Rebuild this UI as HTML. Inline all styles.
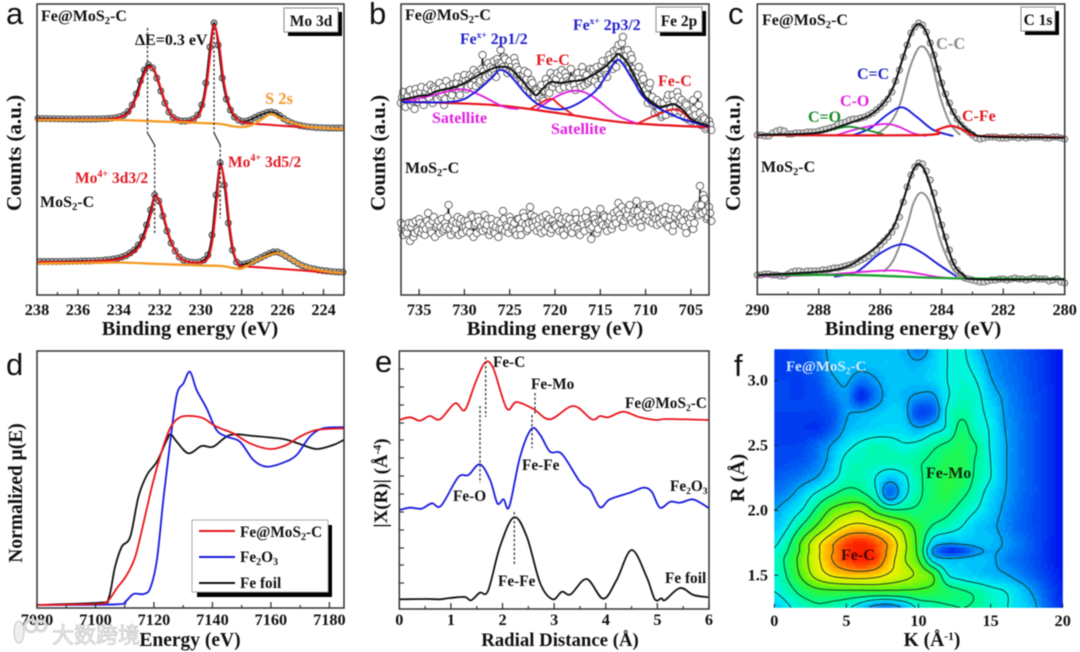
<!DOCTYPE html>
<html lang="en">
<head>
<meta charset="utf-8">
<title>Fe@MoS2-C spectroscopy figure</title>
<style>
html,body{margin:0;padding:0;background:#fff;width:1080px;height:652px;overflow:hidden}
#figure{display:block;filter:blur(0.65px)}
text{font-family:"Liberation Serif","Noto Sans CJK SC",serif;font-weight:bold;fill:#111}
.letter{font-family:"Liberation Sans",sans-serif;font-weight:normal;font-size:31px;fill:#111}
.tick{font-size:16.3px;text-anchor:middle}
.axis{font-size:20.5px;text-anchor:middle}
.lab{font-size:16px}
.frame{fill:none;stroke:#333;stroke-width:1.5}
</style>
</head>
<body>
<svg id="figure" xmlns="http://www.w3.org/2000/svg" width="1080" height="652" viewBox="0 0 1080 652">
<rect x="0" y="0" width="1080" height="652" fill="#fff"/>
<g id="layer-a"></g>
<g id="layer-b"></g>
<g id="layer-c"></g>
<g id="layer-d"></g>
<g id="layer-e"></g>
<g id="layer-f"></g>

<!-- panel a -->
<rect class="frame" x="37" y="4" width="307" height="291"/>
<text class="letter" x="6" y="24">a</text>
<text class="lab" x="41" y="21">Fe@MoS<tspan dy="3" font-size="10.5">2</tspan><tspan dy="-3">-C</tspan></text>
<text class="lab" x="40" y="207">MoS<tspan dy="3" font-size="10.5">2</tspan><tspan dy="-3">-C</tspan></text>
<text x="135" y="45" font-size="16">ΔE=0.3 eV</text>
<text x="228" y="167" font-size="15.5" style="fill:#e01c24">Mo<tspan dy="-6" font-size="10">4+</tspan><tspan dy="6"> 3d5/2</tspan></text>
<text x="75" y="183" font-size="15.5" style="fill:#e01c24">Mo<tspan dy="-6" font-size="10">4+</tspan><tspan dy="6"> 3d3/2</tspan></text>
<text x="265" y="104" font-size="16.5" style="fill:#f39a2c">S 2s</text>
<rect x="288" y="12" width="54" height="24" fill="#000"/>
<rect x="284" y="8" width="54" height="24" fill="#fff" stroke="#888"/>
<text x="311" y="26" font-size="15.5" text-anchor="middle">Mo 3d</text>
<text class="axis" x="190" y="335">Binding energy (eV)</text>
<text class="axis" style="font-size:21px" transform="translate(21,153) rotate(-90)">Counts (a.u.)</text>

<!-- panel b -->
<rect class="frame" x="401" y="4" width="308" height="291"/>
<text class="letter" x="369" y="24">b</text>
<text class="lab" x="405" y="20">Fe@MoS<tspan dy="3" font-size="10.5">2</tspan><tspan dy="-3">-C</tspan></text>
<text class="lab" x="405" y="173">MoS<tspan dy="3" font-size="10.5">2</tspan><tspan dy="-3">-C</tspan></text>
<text x="460" y="44" font-size="15.8" style="fill:#2222cc">Fe<tspan dy="-6" font-size="9.5">x+</tspan><tspan dy="6"> 2p1/2</tspan></text>
<text x="573" y="30" font-size="15.8" style="fill:#2222cc">Fe<tspan dy="-6" font-size="9.5">x+</tspan><tspan dy="6"> 2p3/2</tspan></text>
<text x="536" y="65" font-size="16" style="fill:#e01c24">Fe-C</text>
<text x="658" y="86" font-size="16" style="fill:#e01c24">Fe-C</text>
<text x="432" y="123" font-size="16" style="fill:#e020e0">Satellite</text>
<text x="551" y="134" font-size="16" style="fill:#e020e0">Satellite</text>
<rect x="660" y="11" width="46" height="25" fill="#000"/>
<rect x="656" y="7" width="46" height="25" fill="#fff" stroke="#888"/>
<text x="679" y="26" font-size="15.5" text-anchor="middle">Fe 2p</text>
<text class="axis" x="555" y="335">Binding energy (eV)</text>
<text class="axis" style="font-size:21px" transform="translate(385,153) rotate(-90)">Counts (a.u.)</text>

<!-- panel c -->
<rect class="frame" x="757.3" y="4" width="307.4" height="290.5"/>
<text class="letter" x="728" y="24">c</text>
<text class="lab" x="762" y="25">Fe@MoS<tspan dy="3" font-size="10.5">2</tspan><tspan dy="-3">-C</tspan></text>
<text class="lab" x="761" y="172">MoS<tspan dy="3" font-size="10.5">2</tspan><tspan dy="-3">-C</tspan></text>
<text x="936" y="49" font-size="16.5" style="fill:#8a8a8a">C-C</text>
<text x="857" y="79" font-size="16" style="fill:#2222cc">C=C</text>
<text x="840" y="106" font-size="16" style="fill:#e020e0">C-O</text>
<text x="808" y="122" font-size="16" style="fill:#1a8a2a">C=O</text>
<text x="962" y="121" font-size="16" style="fill:#e01c24">C-Fe</text>
<rect x="1025" y="11" width="34" height="24" fill="#000"/>
<rect x="1021" y="7" width="34" height="24" fill="#fff" stroke="#888"/>
<text x="1038" y="25" font-size="15.5" text-anchor="middle">C 1s</text>
<text class="axis" x="913" y="335">Binding energy (eV)</text>
<text class="axis" style="font-size:21px" transform="translate(740,153) rotate(-90)">Counts (a.u.)</text>

<!-- panel d -->
<rect class="frame" x="37" y="351" width="307" height="257"/>
<text class="letter" x="6" y="375">d</text>
<text class="axis" x="190" y="646" style="font-size:19.5px">Energy (eV)</text>
<text class="axis" style="font-size:19.5px" transform="translate(22,493) rotate(-90)">Normalized μ(E)</text>
<rect x="197" y="525" width="135" height="72" fill="#000"/>
<rect x="192" y="520" width="136" height="72" fill="#fff" stroke="#aaa"/>
<line x1="199" y1="531" x2="235" y2="531" stroke="#e8141c" stroke-width="2"/>
<line x1="199" y1="557" x2="235" y2="557" stroke="#1a1ae0" stroke-width="2"/>
<line x1="199" y1="583" x2="235" y2="583" stroke="#111" stroke-width="2"/>
<text x="240" y="537" font-size="15.3">Fe@MoS<tspan dy="3" font-size="10">2</tspan><tspan dy="-3">-C</tspan></text>
<text x="240" y="562" font-size="15.3">Fe<tspan dy="3" font-size="10">2</tspan><tspan dy="-3">O</tspan><tspan dy="3" font-size="10">3</tspan></text>
<text x="240" y="588" font-size="15.3">Fe foil</text>

<!-- panel e -->
<rect class="frame" x="399.3" y="351" width="309.7" height="258"/>
<text class="letter" x="375" y="372">e</text>
<text x="493" y="367" font-size="15.3">Fe-C</text>
<text x="531" y="389" font-size="15.3">Fe-Mo</text>
<text x="625" y="408" font-size="15.3">Fe@MoS<tspan dy="3" font-size="9.5">2</tspan><tspan dy="-3">-C</tspan></text>
<text x="522" y="470" font-size="15.3">Fe-Fe</text>
<text x="453" y="501" font-size="15.3">Fe-O</text>
<text x="670" y="491" font-size="15.3">Fe<tspan dy="3" font-size="9.5">2</tspan><tspan dy="-3">O</tspan><tspan dy="3" font-size="9.5">3</tspan></text>
<text x="498" y="586" font-size="15.3">Fe-Fe</text>
<text x="665" y="583" font-size="15.3">Fe foil</text>
<text class="axis" x="560" y="646" style="font-size:18.8px">Radial Distance (Å)</text>
<text class="axis" style="font-size:19px" transform="translate(387,483) rotate(-90)">|X(R)| (Å<tspan dy="-6" font-size="11.5">-4</tspan><tspan dy="6">)</tspan></text>

<!-- panel f labels -->
<text class="letter" x="734" y="376">f</text>
<text x="786" y="371" font-size="15" style="fill:#d4e6ff">Fe@MoS<tspan dy="3" font-size="9.5">2</tspan><tspan dy="-3">-C</tspan></text>
<text x="926" y="478" font-size="16" style="fill:#0a2a10">Fe-Mo</text>
<text x="841" y="560" font-size="16" style="fill:#4a0808">Fe-C</text>
<text class="axis" x="932" y="646" style="font-size:19.5px">K (Å<tspan dy="-6" font-size="11.5">-1</tspan><tspan dy="6">)</tspan></text>
<text class="axis" transform="translate(744,478) rotate(-90)">R (Å)</text>

<!-- watermark -->
<g>
<ellipse cx="19" cy="632" rx="5" ry="11" fill="#eee" stroke="#c4c4c4"/>
<circle cx="31" cy="626" r="6" fill="none" stroke="#d8d8d8" stroke-width="3"/>
<circle cx="41" cy="626" r="5" fill="none" stroke="#d8d8d8" stroke-width="3"/>
<text x="52" y="643" font-size="22" style="font-family:'Noto Sans CJK SC',sans-serif;fill:#eeeeee;stroke:#bdbdbd;stroke-width:.6;font-weight:normal">大数跨境</text>
</g>
</svg>

<script>
/* ---------- panel a data ---------- */
const aTopStart = 238.15;
const aBottomStart = 238.05;
const aStep = 0.2;
const aTopCounts = [176.5,176.5,176.4,176.4,176.3,176.3,176.2,176.2,176.1,176.1,176.1,176,176,176,176,176,
176.2,176.3,176.5,176.8,177.3,178.3,180,183.5,190,201,214,225,230,227,217,204,192,183,177.5,175,174,174,174.5,176,180,190,212,248,272,250,217,196,185,178,175,173.5,174,175.5,177.5,179.5,181,182.5,183,182,179.5,176.5,174,172,170.5,169.5,168.8,168.2,167.8,167.5,167.3,167.2,167,167,167,167];
const aBottomCounts = [33.5,33.5,33.5,33.5,33.5,33.5,33.6,33.6,33.7,33.8,33.8,33.9,34,34,34.2,34.4,
34.6,35,35.4,36,36.8,38,39.5,42,45,50,58,70,85,100,94,79,64,52,44,38,35,33.5,32.8,32.5,33,35,40,60,100,132,110,72,45,33,30.5,31,32,33.5,35.5,37.5,39.5,41.5,43,43,41.5,39,36.5,34,31.5,29.5,28,26.8,26,25,24.5,24,23.6,23.2,23,22.8];
const aRedTopE = [238.1,236,234.5,233.9,233.5,233.1,232.9,232.7,232.55,232.3,232.1,231.9,231.7,231.5,231.3,231,230.5,230.1,229.9,229.7,229.5,229.35,229.1,228.9,228.7,228.5,228.3,228,227.5,226.5,225.5,224,223];
const aRedTopV = [175.5,175.5,176,178,183,200,213,224,228,226,216,203,191,182,177,174,174,180,190,212,248,270,250,217,196,185,178,173,171.5,170,168.5,167,166];
const aRedBottomE = [238,236,234.6,234,233.6,233.2,233,232.8,232.6,232.4,232.25,232,231.8,231.6,231.4,231.2,231,230.6,230,229.8,229.6,229.4,229.2,229.05,228.8,228.6,228.4,228.2,228,227,226,225,224,223];
const aRedBottomV = [33,33,34.5,36,39,44,49,57,69,84,99,93,78,63,51,43,37,33,32.5,34,39,59,99,130,109,71,44,32,29,27.5,26,24.5,23,22];
const aOrangeTopE = [238.1,236,234,232,230,229,228.5,228,227.5,227,226.55,226,225,224,223];
const aOrangeTopV = [175,175,175,173.5,172,171,169,168,170,176,181,176,169,167,166];
const aOrangeBottomE = [238,236,234,232,230,229,228.4,228,227.5,227,226.3,225.8,225,224,223];
const aOrangeBottomV = [31.5,32,32.5,31,29.5,29,27,26.5,32,37,42,38.5,29,24,22];
const aPeakShiftE = [[232.6,232.25],[229.35,229.05]];
const aMajorTicks = [238,236,234,232,230,228,226,224];
const aMinorTicks = [237,235,233,231,229,227,225,223];

/* ---------- panel b data ---------- */
const bStart = 737;
const bStep = 0.25;
const bTopCounts = [192,203,188,199,205,194,186,201,196,208,190,203,199,210,192,206,196,212,201,190,214,203,197,211,206,218,200,213,220,206,216,210,225,209,219,214,240,216,228,220,222,234,218,232,245,228,236,222,234,222,237,228,225,215,221,210,222,203,212,198,205,198,210,194,216,204,222,208,212,222,206,225,208,218,212,226,216,205,222,212,228,210,220,214,216,226,220,210,222,234,226,218,240,230,244,228,250,238,258,244,245,228,236,222,218,228,208,216,205,192,212,198,182,195,186,178,192,180,200,186,200,184,203,190,195,178,190,184,174,195,180,200,182,172,176,168,174,165];
const bTopCountsExtra = [198,192,196,204,190,200,206,193,203,194,200,207,197,204,208,200,205,199,208,196,204,209,200,206,212,204,209,216,214,208,220,218,216,222,212,226,224,218,232,228,226,220,236,230,232,238,226,230,228,224,232,220,219,212,224,216,208,215,202,206,202,208,196,204,211,202,214,218,216,210,220,214,222,214,208,216,210,220,216,208,222,218,212,226,224,214,228,222,230,224,220,236,236,226,238,246,242,252,236,240,232,240,226,218,224,212,220,204,200,208,194,190,190,184,192,180,186,196,190,182,194,188,198,184,186,192,176,182,178,186,172,190,170,178,166,172,170];
const bBottomCounts = [72,60,64,68,54,72,62,66,76,62,70,66,82,64,74,58,70,62,76,66,68,90,60,74,66,78,72,62,74,64,70,80,58,72,78,66,64,80,70,60,76,64,68,58,72,84,64,68,78,66,72,60,76,60,82,70,66,88,72,78,64,76,62,72,80,68,62,74,70,84,64,76,60,78,70,66,72,82,66,60,76,64,84,70,56,80,72,66,86,70,78,64,74,66,82,72,92,76,68,84,80,90,72,84,94,78,68,88,76,84,90,72,82,70,76,86,74,88,68,80,64,78,86,72,70,82,62,76,78,66,84,90,109,82,96,76,88,74];
const bBottomCountsExtra = [66,70,62,72,68,58,74,64,72,66,60,74,70,62,78,68,74,68,64,72,78,66,70,64,72,60,76,68,68,74,62,78,70,62,74,68,72,66,76,64,70,62,74,66,66,76,70,62,74,68,64,76,66,72,78,64,72,80,68,74,70,66,78,64,72,76,66,70,68,78,72,64,74,66,76,62,68,76,62,72,70,78,72,66,68,76,62,74,74,80,68,72,78,70,76,84,80,88,74,78,86,76,82,74,84,72,80,90,80,74,88,78,76,84,72,80,82,70,76,86,70,82,74,78,74,68,80,72,82,72,88,80,90,100,84,78,82];
const bFitE = [737,736,735,734,733,732,731,730,729,728,727,726.4,725.5,725,724,723.5,722.2,721.5,720.5,719.5,718,717,715.8,714.5,713.5,713,712,711.4,710.5,709.9,708.4,707,706,704.8,703];
const bFitV = [195,197,199,200,204,206,208,212,217,222,226,228,228,227,218,213,200,205,213,212,214,215,220,228,237,241,232,222,206,197,188,191,186,175,169];
const bBlueE = [736.9,731.2,729,727,726.1,725,723.1,721.3,718.7,715.8,714.2,713,711.4,709.9,706.6,703];
const bBlueV = [193,193.3,201.7,217,225,220,200,188.3,186.7,201.7,221,235,215,195,178.3,168.3];
const bBaseE = [736.9,726.8,719.5,712.1,703];
const bBaseV = [193.3,190,181.7,172.3,167.7];
const bSat1E = [736.9,734.2,730.5,728.3,725.7,724];
const bSat1V = [193.3,198.3,205.7,200,188.3,186];
const bSat2E = [722,719.5,717.6,715.8,713.2,711];
const bSat2V = [186,200,204.3,198.3,180,171.7];
const bFeC1E = [722.8,720.6,719.5,718];
const bFeC1V = [185.7,196,190,180];
const bFeC2E = [711,706.9,704.7,703];
const bFeC2V = [171,185.7,173.3,168.3];
const bMajorTicks = [735,730,725,720,715,710,705];

/* ---------- panel c data ---------- */
const cStart = 290;
const cStep = 0.125;
const cTopCounts = [160,160,159,159,162,164,165,164,161,161,162,162,162,163,163,163,164,165,166,167,168,171,172,173,175,176,176,177,178,180,182,185,188,192,196,203,214,225,238,250,262,268,272,270,263,252,240,226,212,201,192,183,176,170,166,163,160,157,156,157,158,158,158,157,157,157,158,158,157,158,157,158,158,158,158,157,157,158,158,157,156];
const cBottomCounts = [20,20,21,21,20,20,19,19,21,23,24,24,23,24,24,24,24,25,25,26,27,27,28,29,30,31,33,35,37,39,42,45,50,54,58,63,69,78,93,108,120,128,132,131,124,115,102,85,70,58,45,33,25,20,17,16,15,14,13,13,14,15,15,16,16,15,16,17,16,16,15,16,17,16,16,16,14,15,16,13,12];
const cTopFitE = [289.96,288.17,287.5,286.87,286.33,285.9,285.57,285.25,284.97,284.76,284.54,284.27,283.94,283.62,283.29,282.97,282.53,280];
const cTopFitV = [160,161.7,166.7,173.3,180,191.7,208.3,238.3,263.3,271,265,241.7,205,181.7,168.3,161.7,158.3,157.3];
const cTopGrayE = [286.11,285.68,285.35,285.03,284.7,284.38,284.05,283.73,283.4];
const cTopGrayV = [161,171.7,191.7,228,248.3,238,198,171.7,160];
const cTopBlueE = [286.87,286.33,285.79,285.3,284.81,284.27,283.62];
const cTopBlueV = [160,166.7,180,187.7,178,165,159];
const cTopMagentaE = [287.41,286.65,285.9,285.46,284.92,284.49];
const cTopMagentaV = [160,166.7,171,169,161.7,159];
const cTopGreenE = [288.39,287.63,287.03,286.44,285.9];
const cTopGreenV = [160,165,168.3,165,160.7];
const cTopRedE = [290,284.6,284.16,283.67,283.18,282.75,280];
const cTopRedV = [160,160,165,169,163.3,159,157.7];
const cBottomFitE = [289.96,287.96,287.09,286.55,286,285.57,285.25,284.97,284.76,284.54,284.27,283.94,283.62,283.29,282.86,280];
const cBottomFitV = [20,23.3,28.3,38.3,51.7,68.3,95,121.7,131,123.3,98.3,61.7,31.7,20,15.7,15.7];
const cBottomGrayE = [285.9,285.57,285.14,284.92,284.67,284.38,284.05,283.62,283.29];
const cBottomGrayV = [23.3,35,68.3,91.7,102.3,91.7,55,25,18.3];
const cBottomBlueE = [287.5,286.76,286,285.3,284.7,284.16,283.51];
const cBottomBlueV = [18.3,23.3,41.7,50.7,43.3,31.7,18.3];
const cBottomMagentaE = [289.96,287.96,286,285.14,284.05,282.97];
const cBottomMagentaV = [19,20,24.3,23.3,17.7,15.7];
const cBottomGreenE = [289.96,286.87,285.79,283.62,280];
const cBottomGreenV = [20,20,19,16.7,16];
const cMajorTicks = [290,288,286,284,282,280];
const cMinorTicks = [289,287,285,283,281];

/* ---------- panel d data ---------- */
const dRedE = [7080,7099.4,7103.9,7107.3,7110.7,7113.6,7116.4,7119.3,7122.1,7125.5,7128.9,7132.9,7136.9,7141.4,7147.1,7152.8,7159.6,7165.3,7169.9,7175.6,7184.9];
const dRedV = [3,4,6.3,19.7,33,51.3,84.7,121.3,151.3,179.7,190.7,192,189.7,181.3,174.7,164.7,159,163,171.3,178,179.7];
const dBlueE = [7080,7107.3,7110.2,7113,7116.4,7118.7,7121,7123.2,7125.5,7127.8,7130.1,7132.3,7134.6,7138,7141.4,7144.9,7149.4,7154,7158.5,7164.2,7168.8,7173.3,7177.9,7184.9];
const dBlueV = [3,3.7,6.3,14,14,19.7,48,108,164.7,213,224.7,236.3,218,199.7,178,171.3,166.3,148,141.3,145.3,153,171.3,179.7,180.7];
const dBlackE = [7080,7101.6,7104.5,7106.7,7109,7111.9,7114.7,7117.6,7121,7124.4,7125.7,7127.8,7131.8,7136.3,7140.3,7146,7154,7164.2,7169.9,7175.6,7181.3,7184.9];
const dBlackV = [3,5.3,9.7,41.3,61.3,71.3,111.3,133,146.3,168,173.7,166.3,154.7,162,161.3,173,172,169,164,159,163,168];
const dMajorTicks = [7080,7100,7120,7140,7160,7180];
const dMinorTicks = [7090,7110,7130,7150,7170];

/* ---------- panel e data ---------- */
const eRedR = [0,0.21,0.4,0.59,0.79,1.08,1.27,1.47,1.66,1.82,2.08,2.27,2.6,2.92,3.37,3.73,3.89,4.05,4.34,4.66,4.99,5.18,6];
const eRedV = [189,191.7,188.3,193,189.7,205.7,199,225.7,246.3,240.7,200.7,207,200,189.7,203,189.7,193,191.7,197.3,191.7,189,190,189];
const eBlueR = [0,0.21,0.43,0.63,0.81,1.14,1.34,1.56,1.76,1.9,2.02,2.13,2.34,2.56,2.73,2.92,3.15,3.5,3.7,3.89,4.08,4.47,4.73,4.89,5.05,5.25,5.44,5.67,5.83,6];
const eBlueV = [99,101.3,100.3,105.7,103.3,131.7,134,144.7,129,105.7,109.7,102.3,152.3,180,174,157.3,155,127.3,119,101.7,109.7,116.3,121.3,117.3,101.3,107.3,106.3,109.7,106.3,100.7];
const eBlackR = [0,0.53,0.79,0.98,1.27,1.39,1.56,1.72,1.95,2.22,2.47,2.73,2.97,3.15,3.32,3.63,3.95,4.21,4.5,4.79,4.95,5.08,5.15,5.44,5.7,6];
const eBlackV = [9.7,10,9.7,11,12,8.7,16.3,18.3,62.3,91.7,72.3,25.7,9.7,17.3,14.7,30,10.3,29,59,32.3,9.7,10.7,9,21,14,11.7];
const eMajorTicks = [0,1,2,3,4,5,6];
const eMinorTicks = [0.5,1.5,2.5,3.5,4.5,5.5];
const eYTicks = [240,222,204,186,169,151,133,115,97,79,61,44,26];

/* ---------- panel f data ---------- */
const fKValues = [0,1,2,3,4,5,6,7,8,9,10,11,12,13,14,15,16,17,18,19,20];
const fRValues = [3.25,3.125,3,2.875,2.75,2.625,2.5,2.375,2.25,2.125,2,1.875,1.75,1.6875,1.625,1.5,1.375,1.25];
const fIntensity = [
[11,11,12,20,29,30,30,30,30,28,20,30,38,40,29,22,19,15,11,7,3],
[11,11,12,18,28,30,29,30,31,29,28,32,38,40,34,24,20,16,12,8,3],
[11,11,11,14,24,27,20,25,30,30,30,32,38,41,38,27,21,17,12,8,3],
[11,11,11,12,19,24,7,20,30,28,24,24,37,42,41,31,24,18,13,9,3],
[11,11,11,11,14,25,27,30,32,30,12,16,40,46,41,35,25,19,14,9,3],
[11,10,9,9,16,28,31,33,34,33,28,34,40,51,42,37,26,20,14,9,3],
[11,11,12,18,27,35,40,43,42,39,41,46,50,53,48,37,27,20,14,9,3],
[12,13,15,21,30,41,43,44,43,44,47,50,54,54,47,38,27,20,14,9,3],
[15,18,22,27,35,43,44,38,30,36,46,52,55,54,46,38,27,20,14,9,3],
[20,24,32,40,47,52,50,41,18,35,46,52,55,50,43,33,26,19,14,9,3],
[26,32,39,51,62,67,69,58,50,49,50,52,50,44,38,31,24,18,13,9,3],
[30,38,50,62,73,81,83,80,73,66,56,47,43,38,31,28,23,17,13,9,3],
[36,46,63,77,88,97,100,96,87,72,57,34,28,29,30,30,25,20,14,8,3],
[39,49,64,78,89,98,102,98,87,72,57,25,9,12,23,27,24,19,14,8,3],
[42,52,66,78,90,98,102,98,85,71,60,34,28,29,30,28,22,18,13,8,3],
[40,50,63,74,81,84,85,83,78,73,68,60,39,34,31,29,27,22,16,10,4],
[38,44,52,57,58,58,58,58,58,58,58,56,52,49,46,41,38,32,24,14,6],
[30,37,42,46,44,40,32,22,20,28,40,44,47,48,47,42,39,33,28,16,7]
];
const fContourLevels = [26,38,48,60,70,80,90];
const fKTicks = [0,5,10,15,20];
const fRTicks = [1.5,2,2.5,3];

/* ---------- helpers ---------- */
const NS = 'http://www.w3.org/2000/svg';
function scale(d0, d1, p0, p1) { return v => p0 + (v - d0) / (d1 - d0) * (p1 - p0); }
function smoothPath(pts) {
  let d = 'M' + pts[0][0].toFixed(2) + ' ' + pts[0][1].toFixed(2);
  for (let i = 0; i < pts.length - 1; i++) {
    const p0 = pts[Math.max(i - 1, 0)], p1 = pts[i], p2 = pts[i + 1], p3 = pts[Math.min(i + 2, pts.length - 1)];
    const c1x = p1[0] + (p2[0] - p0[0]) / 6, c1y = p1[1] + (p2[1] - p0[1]) / 6;
    const c2x = p2[0] - (p3[0] - p1[0]) / 6, c2y = p2[1] - (p3[1] - p1[1]) / 6;
    d += 'C' + c1x.toFixed(2) + ' ' + c1y.toFixed(2) + ' ' + c2x.toFixed(2) + ' ' + c2y.toFixed(2) + ' ' + p2[0].toFixed(2) + ' ' + p2[1].toFixed(2);
  }
  return d;
}
function drawCurve(layer, name, xs, vs, xAxis, yAxis, color, width, smooth) {
  const pts = xs.map((x, i) => [xAxis(x), yAxis(vs[i])]);
  const el = document.createElementNS(NS, 'path');
  el.setAttribute('d', smooth === false ? 'M' + pts.map(p => p[0].toFixed(2) + ' ' + p[1].toFixed(2)).join('L') : smoothPath(pts));
  el.setAttribute('fill', 'none');
  el.setAttribute('stroke', color);
  el.setAttribute('stroke-width', width);
  el.setAttribute('stroke-linejoin', 'round');
  
  
  layer.appendChild(el);
}
function drawMarkers(layer, name, xs, vs, xAxis, yAxis, r, fill, stroke, sw) {
  const g = document.createElementNS(NS, 'g');
  
  
  xs.forEach((x, i) => {
    const c = document.createElementNS(NS, 'circle');
    c.setAttribute('cx', xAxis(x).toFixed(2));
    c.setAttribute('cy', yAxis(vs[i]).toFixed(2));
    c.setAttribute('r', r);
    c.setAttribute('fill', fill);
    c.setAttribute('stroke', stroke);
    c.setAttribute('stroke-width', sw);
    
    
    g.appendChild(c);
  });
  layer.appendChild(g);
}
function drawSeg(layer, name, x1, y1, x2, y2, color, width, dash) {
  const el = document.createElementNS(NS, 'line');
  el.setAttribute('x1', x1);
  el.setAttribute('y1', y1);
  el.setAttribute('x2', x2);
  el.setAttribute('y2', y2);
  el.setAttribute('stroke', color);
  el.setAttribute('stroke-width', width);
  if (dash) el.setAttribute('stroke-dasharray', dash);
  
  
  layer.appendChild(el);
}
function drawLabel(layer, name, x, y, str, anchor) {
  const t = document.createElementNS(NS, 'text');
  t.setAttribute('class', 'tick');
  t.setAttribute('x', x);
  t.setAttribute('y', y);
  t.setAttribute('style', 'text-anchor:' + anchor);
  t.textContent = str;
  
  
  layer.appendChild(t);
}
function xTicks(layer, axis, bottom, labelY, majors, minors, fmt) {
  majors.forEach(v => {
    drawSeg(layer, 'x-major-tick', axis(v), bottom, axis(v), bottom - 6, '#333', 1.3);
    drawLabel(layer, 'x-tick-label', axis(v), labelY, fmt ? fmt(v) : String(v), 'middle');
  });
  minors.forEach(v => drawSeg(layer, 'x-minor-tick', axis(v), bottom, axis(v), bottom - 3, '#333', 1.2));
}
function range(start, step, n) { const a = []; for (let i = 0; i < n; i++) a.push(start - i * step); return a; }
function interleave(a, b) { const o = []; a.forEach((v, i) => { o.push(v); if (i < b.length) o.push(b[i]); }); return o; }

/* ---------- panel a ---------- */
(function () {
  const L = document.getElementById('layer-a');
  const x = scale(238, 223, 37, 344), y = scale(0, 291, 295, 4);
  const eTop = range(aTopStart, aStep, aTopCounts.length).filter(e => e <= 238);
  const vTop = aTopCounts.slice(aTopCounts.length - eTop.length);
  const eBot = range(aBottomStart, aStep, aBottomCounts.length).filter(e => e <= 238);
  const vBot = aBottomCounts.slice(aBottomCounts.length - eBot.length);
  drawMarkers(L, 'a-top-markers', eTop, vTop, x, y, 3, '#b8b8b8', '#444', 0.9);
  drawMarkers(L, 'a-bottom-markers', eBot, vBot, x, y, 3, '#b8b8b8', '#444', 0.9);
  drawCurve(L, 'a-top-fit', eTop, vTop, x, y, '#111', 1.6);
  drawCurve(L, 'a-bottom-fit', eBot, vBot, x, y, '#111', 1.6);
  drawCurve(L, 'a-top-mo3d', aRedTopE, aRedTopV, x, y, '#e8141c', 2.1);
  drawCurve(L, 'a-bottom-mo3d', aRedBottomE, aRedBottomV, x, y, '#e8141c', 2.1);
  drawCurve(L, 'a-top-s2s', aOrangeTopE, aOrangeTopV, x, y, '#f59a23', 2.3);
  drawCurve(L, 'a-bottom-s2s', aOrangeBottomE, aOrangeBottomV, x, y, '#f59a23', 2.3);
  aPeakShiftE.forEach(pair => {
    drawSeg(L, 'a-shift-guide-upper', x(pair[0]), 28, x(pair[0]), 133, '#222', 1.2, '2.5 2');
    drawSeg(L, 'a-shift-guide-kink', x(pair[0]), 133, x(pair[1]), 145, '#222', 1.2);
    drawSeg(L, 'a-shift-guide-lower', x(pair[1]), 145, x(pair[1]), pair[0] > 231 ? 235 : 218, '#222', 1.2, '2.5 2');
  });
  xTicks(L, x, 295, 315, aMajorTicks, aMinorTicks);
})();

/* ---------- panel b ---------- */
(function () {
  const L = document.getElementById('layer-b');
  const x = scale(737, 703, 401, 709), y = scale(0, 291, 295, 4);
  const eA = range(bStart, bStep, bTopCounts.length);
  const eB = range(bStart - bStep / 2, bStep, bTopCountsExtra.length);
  const eAll = interleave(eA, eB);
  const vTop = interleave(bTopCounts, bTopCountsExtra);
  const vBot = interleave(bBottomCounts, bBottomCountsExtra);
  drawCurve(L, 'b-top-trace', eAll, vTop, x, y, '#111', 1.1, false);
  drawCurve(L, 'b-bottom-trace', eAll, vBot, x, y, '#111', 1.1, false);
  drawMarkers(L, 'b-top-markers', eAll, vTop, x, y, 3.7, '#fff', '#555', 0.9);
  drawMarkers(L, 'b-bottom-markers', eAll, vBot, x, y, 3.7, '#fff', '#555', 0.9);
  drawCurve(L, 'b-base', bBaseE, bBaseV, x, y, '#e8141c', 2.2);
  drawCurve(L, 'b-satellite-1', bSat1E, bSat1V, x, y, '#e020e0', 1.8);
  drawCurve(L, 'b-satellite-2', bSat2E, bSat2V, x, y, '#e020e0', 1.8);
  drawCurve(L, 'b-fe-c-1', bFeC1E, bFeC1V, x, y, '#e8141c', 1.8);
  drawCurve(L, 'b-fe-c-2', bFeC2E, bFeC2V, x, y, '#e8141c', 1.8);
  drawCurve(L, 'b-fe-x', bBlueE, bBlueV, x, y, '#1a1ae0', 1.9);
  drawCurve(L, 'b-fit', bFitE, bFitV, x, y, '#111', 2);
  xTicks(L, x, 295, 315, bMajorTicks, []);
})();

/* ---------- panel c ---------- */
(function () {
  const L = document.getElementById('layer-c');
  const x = scale(290, 280, 757.3, 1064.7), y = scale(0, 291, 295, 4);
  const eAll = range(cStart, cStep, cTopCounts.length);
  drawMarkers(L, 'c-top-markers', eAll, cTopCounts, x, y, 3.1, '#dcdcdc', '#666', 0.9);
  drawMarkers(L, 'c-bottom-markers', eAll, cBottomCounts, x, y, 3.1, '#dcdcdc', '#666', 0.9);
  drawCurve(L, 'c-top-cc', cTopGrayE, cTopGrayV, x, y, '#8c8c8c', 1.9);
  drawCurve(L, 'c-top-c-double-c', cTopBlueE, cTopBlueV, x, y, '#1a1ae0', 1.9);
  drawCurve(L, 'c-top-co', cTopMagentaE, cTopMagentaV, x, y, '#e020e0', 1.8);
  drawCurve(L, 'c-top-c-double-o', cTopGreenE, cTopGreenV, x, y, '#1a8a2a', 1.8);
  drawCurve(L, 'c-top-cfe', cTopRedE, cTopRedV, x, y, '#e8141c', 2.2);
  drawCurve(L, 'c-top-fit', cTopFitE, cTopFitV, x, y, '#111', 2);
  drawCurve(L, 'c-bottom-cc', cBottomGrayE, cBottomGrayV, x, y, '#8c8c8c', 1.9);
  drawCurve(L, 'c-bottom-c-double-c', cBottomBlueE, cBottomBlueV, x, y, '#1a1ae0', 1.9);
  drawCurve(L, 'c-bottom-co', cBottomMagentaE, cBottomMagentaV, x, y, '#e020e0', 1.8);
  drawCurve(L, 'c-bottom-c-double-o', cBottomGreenE, cBottomGreenV, x, y, '#16a028', 2.2);
  drawCurve(L, 'c-bottom-fit', cBottomFitE, cBottomFitV, x, y, '#111', 2);
  xTicks(L, x, 294.5, 315, cMajorTicks, cMinorTicks);
})();

/* ---------- panel d ---------- */
(function () {
  const L = document.getElementById('layer-d');
  const x = scale(7080, 7185, 37, 344), y = scale(0, 257, 608, 351);
  drawCurve(L, 'd-fe-foil', dBlackE, dBlackV, x, y, '#111', 1.8);
  drawCurve(L, 'd-fe2o3', dBlueE, dBlueV, x, y, '#1a1ae0', 1.8);
  drawCurve(L, 'd-fe-mos2-c', dRedE, dRedV, x, y, '#e8141c', 1.8);
  xTicks(L, x, 608, 625, dMajorTicks, dMinorTicks);
})();

/* ---------- panel e ---------- */
(function () {
  const L = document.getElementById('layer-e');
  const x = scale(0, 6, 399.3, 709), y = scale(0, 258, 609, 351);
  drawCurve(L, 'e-fe-mos2-c', eRedR, eRedV, x, y, '#e8141c', 1.8);
  drawCurve(L, 'e-fe2o3', eBlueR, eBlueV, x, y, '#1a1ae0', 1.8);
  drawCurve(L, 'e-fe-foil', eBlackR, eBlackV, x, y, '#111', 1.8);
  xTicks(L, x, 609, 625, eMajorTicks, eMinorTicks);
  eYTicks.forEach(v => drawSeg(L, 'e-y-tick', 399.3, y(v), 404, y(v), '#333', 1.2));
  drawSeg(L, 'e-guide-fe-c', 485.7, 357, 485.7, 417, '#333', 1.3, '2.5 2');
  drawSeg(L, 'e-guide-fe-o', 480, 406, 480, 483, '#333', 1.3, '2.5 2');
  drawSeg(L, 'e-guide-fe-mo', 535, 393, 535, 415, '#333', 1.3, '2.5 2');
  drawSeg(L, 'e-guide-fe-fe-upper', 532, 415, 532, 448, '#333', 1.3, '2.5 2');
  drawSeg(L, 'e-guide-fe-fe-lower', 514.3, 512, 514.3, 565, '#333', 1.3, '2.5 2');
})();

/* ---------- panel f ---------- */
(function () {
  const L = document.getElementById('layer-f');
  const left = 774.3, right = 1062.7, top = 349.3, bottom = 607.7;
  const kAxis = scale(0, 20, left, right), rAxis = scale(1.25, 3.242, bottom, top);
  const kInv = scale(left, right, 0, 20), rInv = scale(bottom, top, 1.25, 3.242);
  const stops = [[0,0,0,235],[10,0,60,240],[20,0,120,245],[26,0,165,250],[32,0,210,250],[38,0,245,235],[48,0,250,140],[60,60,245,30],[70,170,245,0],[80,250,240,0],[90,255,150,0],[100,255,40,0],[106,240,20,0]];
  function cr(a, b, c, d, t) { return b + 0.5 * t * (c - a + t * (2 * a - 5 * b + 4 * c - d + t * (3 * (b - c) + d - a))); }
  function clampI(i, n) { return Math.max(0, Math.min(n - 1, i)); }
  function field(k, r) {
    let ci = Math.max(0, Math.min(fKValues.length - 1.001, k));
    let ri = 0;
    for (let i = 0; i < fRValues.length - 1; i++) {
      if (r <= fRValues[i] && r >= fRValues[i + 1]) { ri = i + (fRValues[i] - r) / (fRValues[i] - fRValues[i + 1]); break; }
      if (r < fRValues[fRValues.length - 1]) ri = fRValues.length - 1.001;
    }
    const c0 = Math.floor(ci), r0 = Math.floor(ri), tc = ci - c0, tr = ri - r0, col = [];
    for (let j = -1; j <= 2; j++) {
      const row = fIntensity[clampI(r0 + j, fRValues.length)];
      col.push(cr(row[clampI(c0 - 1, 21)], row[clampI(c0, 21)], row[clampI(c0 + 1, 21)], row[clampI(c0 + 2, 21)], tc));
    }
    return cr(col[0], col[1], col[2], col[3], tr);
  }
  function colorOf(v) {
    v = Math.max(0, Math.min(105.9, Math.round(v / 2) * 2));
    for (let i = 0; i < stops.length - 1; i++) {
      if (v <= stops[i + 1][0]) {
        const t = (v - stops[i][0]) / (stops[i + 1][0] - stops[i][0]);
        return 'rgb(' + [1, 2, 3].map(c => Math.round(stops[i][c] + t * (stops[i + 1][c] - stops[i][c]))).join(',') + ')';
      }
    }
    return 'rgb(240,20,0)';
  }
  const cell = 3;
  for (let py = top; py < bottom; py += cell) {
    for (let px = left; px < right; px += cell) {
      const v = field(kInv(px + cell / 2), rInv(py + cell / 2));
      const el = document.createElementNS(NS, 'rect');
      el.setAttribute('x', px.toFixed(1));
      el.setAttribute('y', py.toFixed(1));
      el.setAttribute('width', Math.min(cell + 0.4, right - px).toFixed(1));
      el.setAttribute('height', Math.min(cell + 0.4, bottom - py).toFixed(1));
      el.setAttribute('fill', colorOf(v));
      
      
      L.appendChild(el);
    }
  }
  /* contour lines by marching squares */
  const st = 2, nx = Math.floor((right - left) / st), ny = Math.floor((bottom - top) / st), F = [];
  for (let j = 0; j <= ny; j++) {
    const row = [];
    for (let i = 0; i <= nx; i++) row.push(field(kInv(left + i * st), rInv(top + j * st)));
    F.push(row);
  }
  fContourLevels.forEach(level => {
    let d = '';
    for (let j = 0; j < ny; j++) {
      for (let i = 0; i < nx; i++) {
        const a = F[j][i], b = F[j][i + 1], c = F[j + 1][i + 1], e = F[j + 1][i], pts = [];
        const X = left + i * st, Y = top + j * st;
        if ((a < level) !== (b < level)) pts.push([X + st * (level - a) / (b - a), Y]);
        if ((b < level) !== (c < level)) pts.push([X + st, Y + st * (level - b) / (c - b)]);
        if ((e < level) !== (c < level)) pts.push([X + st * (level - e) / (c - e), Y + st]);
        if ((a < level) !== (e < level)) pts.push([X, Y + st * (level - a) / (e - a)]);
        if (pts.length >= 2) d += 'M' + pts[0][0].toFixed(1) + ' ' + pts[0][1].toFixed(1) + 'L' + pts[1][0].toFixed(1) + ' ' + pts[1][1].toFixed(1);
        if (pts.length === 4) d += 'M' + pts[2][0].toFixed(1) + ' ' + pts[2][1].toFixed(1) + 'L' + pts[3][0].toFixed(1) + ' ' + pts[3][1].toFixed(1);
      }
    }
    const el = document.createElementNS(NS, 'path');
    el.setAttribute('d', d);
    el.setAttribute('fill', 'none');
    el.setAttribute('stroke', '#14402e');
    el.setAttribute('stroke-width', '1');
    
    
    L.appendChild(el);
  });
  fKTicks.forEach(v => {
    drawSeg(L, 'f-x-tick', kAxis(v), bottom, kAxis(v), bottom - 4, '#123', 1);
    drawLabel(L, 'f-x-tick-label', kAxis(v), 626, String(v), 'middle');
  });
  fRTicks.forEach(v => {
    drawSeg(L, 'f-y-tick', left, rAxis(v), left + 4, rAxis(v), '#123', 1);
    drawLabel(L, 'f-y-tick-label', 768, rAxis(v) + 5, v.toFixed(1), 'end');
  });
})();
</script>
</body>
</html>
